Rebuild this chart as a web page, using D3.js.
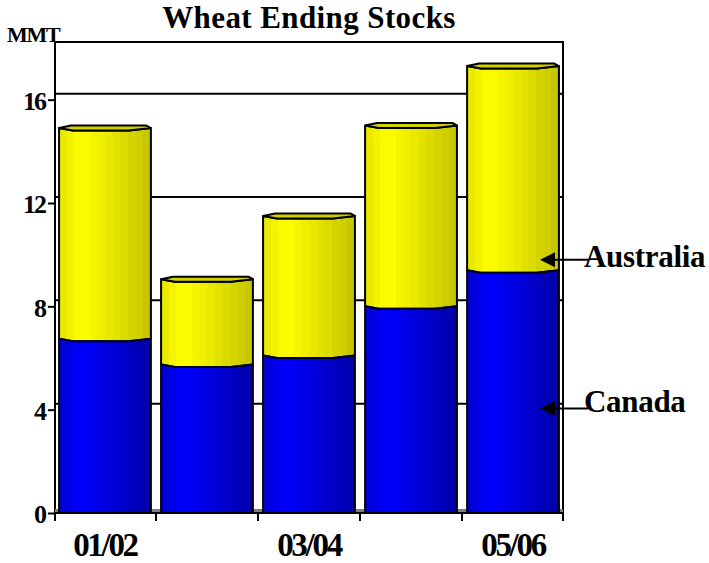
<!DOCTYPE html>
<html>
<head>
<meta charset="utf-8">
<script src="https://cdn.jsdelivr.net/npm/d3@7"></script>
<style>
  body { margin: 0; background: #fff; }
  svg text { font-family: "Liberation Serif", "Times New Roman", serif; font-weight: bold; fill: #000; }
</style>
</head>
<body>
<svg id="chart" width="709" height="563"></svg>
<script>
// data (million metric tons)
const categories = ["01/02", "02/03", "03/04", "04/05", "05/06"];
const canada = [6.75, 5.75, 6.1, 8.0, 9.4];
const australia = [8.15, 3.3, 5.4, 7.0, 7.9];
const yTicks = [0, 4, 8, 12, 16];
const xLabels = ["01/02", "", "03/04", "", "05/06"];
const seriesNames = ["Canada", "Australia"];

const svg = d3.select("#chart");

// plot frame
const left = 55, right = 563, bottom = 513;
const depth = 6; // back wall offset for the 3D look

const y = d3.scaleLinear().domain([0, 18]).range([bottom, 48]);
const x = d3.scaleBand()
    .domain(categories)
    .range([left, right])
    .paddingInner(0.1)
    .paddingOuter(0.04);

// gradients
const defs = svg.append("defs");
function stripes(id, c0, cPeak, c1) {
    const g = defs.append("linearGradient").attr("id", id)
        .attr("x1", "0%").attr("x2", "100%").attr("y1", "0%").attr("y2", "0%");
    const n = 12;
    const a = d3.interpolateRgb(c0, cPeak), b = d3.interpolateRgb(cPeak, c1);
    for (let i = 0; i < n; i++) {
        const t = (i + 0.5) / n;
        const col = t < 0.25 ? a(t / 0.25) : b((t - 0.25) / 0.75);
        g.append("stop").attr("offset", i / n).attr("stop-color", col);
        g.append("stop").attr("offset", (i + 1) / n).attr("stop-color", col);
    }
}
stripes("gradYellow", "#e6e600", "#ffff00", "#c4c400");
stripes("gradBlue", "#0000d0", "#0000ff", "#0000a8");

// back gridlines
svg.append("g")
    .selectAll("line")
    .data(yTicks.filter(d => d > 0))
    .join("line")
    .attr("x1", left).attr("x2", right)
    .attr("y1", d => y(d) - depth).attr("y2", d => y(d) - depth)
    .attr("stroke", "#000").attr("stroke-width", 2);

// frame: top, left, right
svg.append("path")
    .attr("d", `M${left},${bottom + 8}V${y(18) - depth}H${right}V${bottom + 8}`)
    .attr("fill", "none").attr("stroke", "#000").attr("stroke-width", 2);

// floor
svg.append("rect")
    .attr("x", left).attr("y", bottom - 4)
    .attr("width", right - left).attr("height", 4)
    .attr("fill", "#808080");

// stacked cylinders
const stacked = categories.map((c, i) => ({
    cat: c,
    segs: [
        { key: "Canada", v0: 0, v1: canada[i] },
        { key: "Australia", v0: canada[i], v1: canada[i] + australia[i] }
    ]
}));

function frontCurve(x0, w, yy) {
    return [[x0, yy], [x0 + 0.15 * w, yy + 2.5], [x0 + 0.76 * w, yy + 2.5], [x0 + w, yy]];
}

function bodyPath(x0, w, v0, v1) {
    const yt = y(v1), yb = y(v0);
    const top = frontCurve(x0, w, yt);
    const bot = frontCurve(x0, w, yb).reverse();
    const pts = [[x0, yb]].concat(top, bot);
    return "M" + pts.map(p => p.join(",")).join("L") + "Z";
}

function capPath(x0, w, v) {
    const yy = y(v);
    const pts = [[x0, yy], [x0 + 0.13 * w, yy - 2.5], [x0 + 0.95 * w, yy - 2.5], [x0 + w, yy],
        [x0 + 0.76 * w, yy + 2.5], [x0 + 0.15 * w, yy + 2.5]];
    return "M" + pts.map(p => p.join(",")).join("L") + "Z";
}

const fills = { Canada: "url(#gradBlue)", Australia: "url(#gradYellow)" };

const barGroup = svg.append("g")
    .selectAll("g")
    .data(stacked)
    .join("g");

barGroup.each(function (d) {
    const g = d3.select(this);
    const x0 = x(d.cat), w = x.bandwidth();
    // draw top segment first so lower one's curved top sits over it
    d.segs.slice().reverse().forEach(s => {
        g.append("path")
            .attr("d", bodyPath(x0, w, s.v0, s.v1))
            .attr("fill", fills[s.key])
            .attr("stroke", "#000")
            .attr("stroke-width", 2)
            .attr("stroke-linejoin", "round");
    });
    const total = d.segs[1].v1;
    g.append("path")
        .attr("d", capPath(x0, w, total))
        .attr("fill", "#d2d200")
        .attr("stroke", "#000")
        .attr("stroke-width", 2)
        .attr("stroke-linejoin", "round");
});

// cover bar bottoms with floor edge and x axis line
svg.append("rect")
    .attr("x", left).attr("y", bottom)
    .attr("width", right - left + 1).attr("height", 4)
    .attr("fill", "#fff");
svg.append("line")
    .attr("x1", left).attr("x2", right)
    .attr("y1", bottom).attr("y2", bottom)
    .attr("stroke", "#000").attr("stroke-width", 2);

// x tick marks at band boundaries
const bounds = categories.map(c => x(c) - x.step() * x.paddingInner() / 2);
bounds[0] = left;
bounds.push(right);
svg.append("g")
    .selectAll("line")
    .data(bounds)
    .join("line")
    .attr("x1", d => d).attr("x2", d => d)
    .attr("y1", bottom).attr("y2", bottom + 8)
    .attr("stroke", "#000").attr("stroke-width", 2);

// x labels
const xAxis = svg.append("g")
    .attr("transform", `translate(0,${bottom})`)
    .call(d3.axisBottom(x).tickSize(0).tickPadding(0).tickFormat((d, i) => xLabels[i]));
xAxis.select(".domain").remove();
xAxis.selectAll("text")
    .attr("y", 43).attr("dy", null)
    .style("font-size", "33px")
    .style("letter-spacing", "-2.3px")
    .style("font-family", '"Liberation Serif", serif')
    .style("font-weight", "bold");

// y axis
const yAxis = svg.append("g")
    .attr("transform", `translate(${left},0)`)
    .call(d3.axisLeft(y).tickValues(yTicks).tickSize(7).tickPadding(3));
yAxis.select(".domain").remove();
yAxis.selectAll("line").attr("stroke-width", 2);
yAxis.selectAll("text")
    .attr("dy", "0.38em")
    .style("font-size", "26px")
    .style("letter-spacing", "-2px")
    .style("font-family", '"Liberation Serif", serif')
    .style("font-weight", "bold");

// unit label
svg.append("text")
    .attr("x", 7).attr("y", 41.5)
    .style("font-size", "22px")
    .style("letter-spacing", "-1.3px")
    .text("MMT");

// title
svg.append("text")
    .attr("x", 309).attr("y", 28)
    .attr("text-anchor", "middle")
    .style("font-size", "31px")
    .style("letter-spacing", "0.4px")
    .text("Wheat Ending Stocks");

// series labels with arrows pointing into the last bar
const legendAt = { Canada: 4.05, Australia: 9.8 };
const legend = svg.append("g")
    .selectAll("g")
    .data(seriesNames)
    .join("g")
    .attr("transform", d => `translate(0,${y(legendAt[d])})`);

legend.append("line")
    .attr("x1", 552).attr("x2", 588)
    .attr("y1", 0).attr("y2", 0)
    .attr("stroke", "#000").attr("stroke-width", 2);
legend.append("path")
    .attr("d", "M540,0L555,-7.5L555,7.5Z")
    .attr("fill", "#000");
legend.append("text")
    .attr("x", 584)
    .attr("y", d => d === "Canada" ? 4 : 7)
    .style("font-size", "31px")
    .style("letter-spacing", "-0.3px")
    .text(d => d);
</script>
</body>
</html>
